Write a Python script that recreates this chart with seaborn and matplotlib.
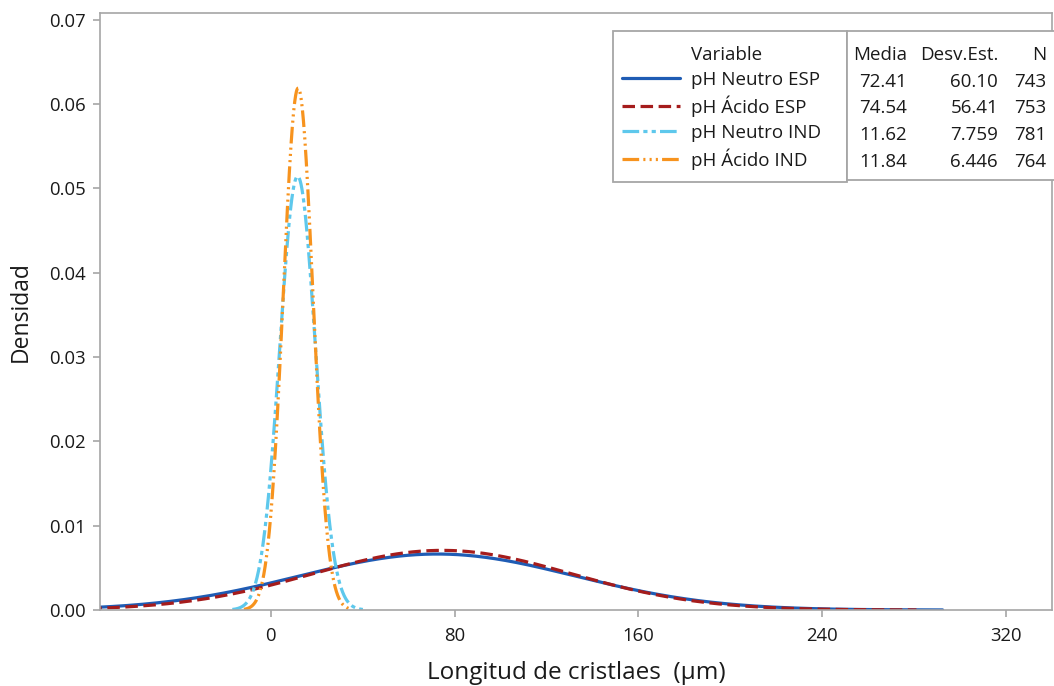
import numpy as np
import pandas as pd
import matplotlib
matplotlib.use("Agg")
import matplotlib.pyplot as plt
from matplotlib.lines import Line2D
from matplotlib.patches import Rectangle
import seaborn as sns

# ---- data ----
variables = ["pH Neutro ESP", "pH Ácido ESP", "pH Neutro IND", "pH Ácido IND"]
means = [72.41, 74.54, 11.62, 11.84]
stdevs = [60.10, 56.41, 7.759, 6.446]
stdev_labels = ["60.10", "56.41", "7.759", "6.446"]
counts = [743, 753, 781, 764]
x_ticks = [0, 80, 160, 240, 320]
y_ticks = [0.00, 0.01, 0.02, 0.03, 0.04, 0.05, 0.06, 0.07]

# ---- style ----
colors = ["#1f5cb4", "#a51c1c", "#5ec8ec", "#f7931e"]
dash_patterns = [None, [9, 4], [12, 3, 3, 3, 3, 3], [12, 3, 1.5, 3, 1.5, 3, 1.5, 3]]
span_sd = 3.66

sns.set_theme(style="white")
plt.rcParams["font.family"] = ["Open Sans", "DejaVu Sans"]
plt.rcParams["lines.scale_dashes"] = False

W, H = 1054, 686
fig = plt.figure(figsize=(W / 100, H / 100), dpi=100)
ax = fig.add_axes([100 / W, 1 - 610 / H, (1052 - 100) / W, (610 - 13) / H])

rows = []
for v, m, s in zip(variables, means, stdevs):
    xs = np.linspace(m - span_sd * s, m + span_sd * s, 600)
    ys = np.exp(-0.5 * ((xs - m) / s) ** 2) / (s * np.sqrt(2 * np.pi))
    rows.append(pd.DataFrame({"x": xs, "y": ys, "Variable": v}))
df = pd.concat(rows, ignore_index=True)

handles = []
for v, c, d in zip(variables, colors, dash_patterns):
    sub = df[df["Variable"] == v]
    sns.lineplot(data=sub, x="x", y="y", ax=ax, color=c, lw=2.3, legend=False,
                 sort=False, estimator=None)
    ln = ax.lines[-1]
    if d is not None:
        ln.set_dashes(d)
    h = Line2D([], [], color=c, lw=2.3)
    if d is not None:
        h.set_dashes(d)
    handles.append(h)

ax.set_xlim(-74.4, 340)
ax.set_ylim(0, 0.0708)
ax.set_xticks(x_ticks)
ax.set_yticks(y_ticks)
ax.set_yticklabels([f"{t:.2f}" for t in y_ticks])
for sp in ax.spines.values():
    sp.set_color("#a6a6a6")
    sp.set_linewidth(1.2)
ax.tick_params(axis="both", which="both", direction="out", length=5, width=1.2,
               color="#a6a6a6", labelsize=13.3, labelcolor="#1a1a1a", pad=5,
               bottom=True, left=True)
ax.tick_params(axis="x", pad=7)
ax.set_xlabel("Longitud de cristlaes  (µm)", fontsize=17.5, labelpad=12, color="#1a1a1a")
ax.set_ylabel("Densidad", fontsize=16.5, labelpad=12, color="#1a1a1a")

# legend frame and table frame (drawn in the axes, below the legend)
fs = 13.5
for (x0, y0, x1, y1) in [(613, 31, 847, 182), (847, 31, 1060, 180)]:
    r = Rectangle((x0 / W, 1 - y1 / H), (x1 - x0) / W, (y1 - y0) / H,
                  transform=fig.transFigure, facecolor="white",
                  edgecolor="#a6a6a6", lw=1.3, zorder=4, clip_on=False)
    ax.add_artist(r)

blank = Line2D([], [], color="none")
leg = ax.legend([blank] + handles, ["Variable"] + variables,
                loc="upper left", bbox_to_anchor=(622 / W, 1 - 46 / H),
                bbox_transform=fig.transFigure, fontsize=fs, frameon=False,
                handlelength=3.1, handletextpad=0.6,
                labelspacing=0.36, borderpad=0, borderaxespad=0)
leg.set_zorder(6)
for t in leg.get_texts():
    t.set_color("#1a1a1a")

row_y = [55, 82, 108, 135, 162]
col_x = [907, 998, 1046]
headers = ["Media", "Desv.Est.", "N"]
for hx, htxt in zip(col_x, headers):
    fig.text(hx / W, 1 - row_y[0] / H, htxt, ha="right", va="center",
             fontsize=fs, color="#1a1a1a", zorder=6)
for i in range(len(variables)):
    vals = [f"{means[i]:.2f}", stdev_labels[i], f"{counts[i]}"]
    for hx, txt in zip(col_x, vals):
        fig.text(hx / W, 1 - row_y[i + 1] / H, txt, ha="right", va="center",
                 fontsize=fs, color="#1a1a1a", zorder=6)

fig.savefig("out.png", dpi=100)
